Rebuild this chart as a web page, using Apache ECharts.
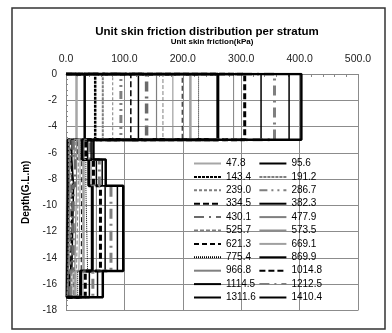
<!DOCTYPE html>
<html>
<head>
<meta charset="utf-8">
<script src="https://cdn.jsdelivr.net/npm/echarts@6/dist/echarts.min.js"></script>
<style>
  html, body { margin: 0; padding: 0; background: #fff; }
  #chart { width: 392px; height: 333px; }
</style>
</head>
<body>
<div id="chart"></div>
<script>
// load steps (legend labels)
const loadLabels = ['47.8', '95.6', '143.4', '191.2', '239.0', '286.7', '334.5', '382.3', '430.1', '477.9', '525.7',
  '573.5', '621.3', '669.1', '775.4', '869.9', '966.8', '1014.8', '1114.5', '1212.5', '1311.6', '1410.4'];

// stratum boundaries (G.L. m)
const depthBounds = [0, -5, -6.5, -8.5, -15, -17];

// unit skin friction per stratum (kPa), one value per load step
const stratum1 = [18, 32, 50, 63, 80, 94, 111, 124, 138, 155, 166, 183, 199, 213, 227, 260, 287, 306, 334, 357, 382, 403];
const stratum2 = [2, 3, 4, 5, 6, 8, 9, 10, 12, 14, 16, 18, 20, 22, 25, 28, 31, 34, 37, 40, 43, 47];
const stratum3 = [2, 3, 4, 6, 7, 9, 11, 13, 16, 18, 21, 24, 27, 30, 34, 39, 43, 47, 52, 57, 62, 68];
const stratum4 = [1, 2, 3, 4, 5, 6, 8, 10, 12, 15, 18, 22, 26, 30, 37, 45, 52, 59, 67, 77, 88, 98];
const stratum5 = [1, 1.5, 2, 2.5, 3, 4, 5, 6, 7, 8, 10, 12, 14, 16, 20, 25, 29, 33, 40, 46, 54, 63];

const xTicks = [0, 100, 200, 300, 400, 500];

// line look per load step, in legend order
const lineLooks = [
  { color: '#a6a6a6', width: 2.5, type: 'solid' },
  { color: '#000', width: 2.5, type: 'solid' },
  { color: '#000', width: 2.5, type: [3, 1] },
  { color: '#7f7f7f', width: 2, type: [3, 1] },
  { color: '#7f7f7f', width: 1, type: [3, 2] },
  { color: '#7f7f7f', width: 3, type: [8, 4, 2, 4, 2, 4] },
  { color: '#000', width: 1.5, type: [6, 3] },
  { color: '#000', width: 1.5, type: 'solid' },
  { color: '#6a6a6a', width: 3.5, type: [10, 5, 2, 5] },
  { color: '#7f7f7f', width: 1.2, type: 'solid' },
  { color: '#7f7f7f', width: 1, type: [4, 2] },
  { color: '#8c8c8c', width: 1, type: 'solid' },
  { color: '#000', width: 1, type: [5, 3] },
  { color: '#a0a0a0', width: 2.5, type: 'solid' },
  { color: '#000', width: 1, type: [1, 1] },
  { color: '#000', width: 3, type: 'solid' },
  { color: '#808080', width: 1, type: 'solid' },
  { color: '#000', width: 3, type: [6, 3] },
  { color: '#000', width: 1.5, type: 'solid' },
  { color: '#7f7f7f', width: 3, type: [10, 5, 2, 5] },
  { color: '#000', width: 1.5, type: 'solid' },
  { color: '#000', width: 2.5, type: 'solid' }
];

const FONT = '"Liberation Sans Narrow", "Liberation Sans", sans-serif';

function stepProfile(i) {
  const vals = [stratum1[i], stratum2[i], stratum3[i], stratum4[i], stratum5[i]];
  const pts = [[0, depthBounds[0]]];
  vals.forEach((v, k) => {
    pts.push([v, depthBounds[k]]);
    pts.push([v, depthBounds[k + 1]]);
  });
  pts.push([0, depthBounds[depthBounds.length - 1]]);
  return pts;
}

const series = loadLabels.map((name, i) => ({
  name: name,
  type: 'line',
  data: stepProfile(i),
  symbol: 'none',
  showSymbol: false,
  animation: false,
  lineStyle: lineLooks[i],
  itemStyle: { color: lineLooks[i].color }
}));

const chart = echarts.init(document.getElementById('chart'));
chart.setOption({
  backgroundColor: '#fff',
  animation: false,
  title: {
    text: 'Unit skin friction distribution per stratum',
    left: 202,
    textAlign: 'center',
    top: 21,
    textStyle: { fontFamily: FONT, fontSize: 11.5, fontWeight: 'bold', color: '#000' }
  },
  graphic: [{
    type: 'rect',
    shape: { x: 12, y: 8, width: 373, height: 321 },
    style: { fill: 'none', stroke: '#333', lineWidth: 1.5 },
    silent: true
  }],
  legend: {
    left: 193,
    top: 158,
    width: 132,
    padding: 0,
    orient: 'horizontal',
    itemWidth: 27,
    itemHeight: 8,
    itemGap: 2.4,
    itemStyle: { opacity: 0 },
    textStyle: { fontFamily: FONT, fontSize: 10, color: '#000', width: 30, lineHeight: 11 },
    data: loadLabels
  },
  grid: { left: 66, right: 34, top: 74, bottom: 22.5 },
  xAxis: {
    type: 'value',
    position: 'top',
    min: xTicks[0],
    max: xTicks[xTicks.length - 1],
    interval: 100,
    name: 'Unit skin friction(kPa)',
    nameLocation: 'middle',
    nameGap: 28,
    nameTextStyle: { fontFamily: FONT, fontSize: 8, fontWeight: 'bold', color: '#000' },
    axisLine: { show: true, lineStyle: { color: '#888', width: 1 } },
    axisTick: { show: true, inside: true, length: 4, lineStyle: { color: '#888' } },
    minorTick: { show: true, splitNumber: 5, length: 3, lineStyle: { color: '#888' } },
    splitLine: { show: true, lineStyle: { color: '#8c8c8c', width: 1 } },
    axisLabel: {
      fontFamily: FONT, fontSize: 10.5, color: '#222', margin: 9,
      formatter: v => v.toFixed(1)
    }
  },
  yAxis: {
    type: 'value',
    min: -18,
    max: 0,
    interval: 2,
    name: 'Depth(G.L.m)',
    nameLocation: 'middle',
    nameGap: 24,
    nameRotate: 90,
    nameTextStyle: { fontFamily: FONT, fontSize: 10, fontWeight: 'bold', color: '#000' },
    axisLine: { show: true, lineStyle: { color: '#888', width: 1 } },
    axisTick: { show: true, inside: true, length: 3, lineStyle: { color: '#888' } },
    minorTick: { show: true, splitNumber: 5, length: 2, lineStyle: { color: '#888' } },
    splitLine: { show: true, lineStyle: { color: '#8c8c8c', width: 1 } },
    axisLabel: { fontFamily: FONT, fontSize: 10, color: '#222', margin: 9 }
  },
  series: series
});
</script>
</body>
</html>
